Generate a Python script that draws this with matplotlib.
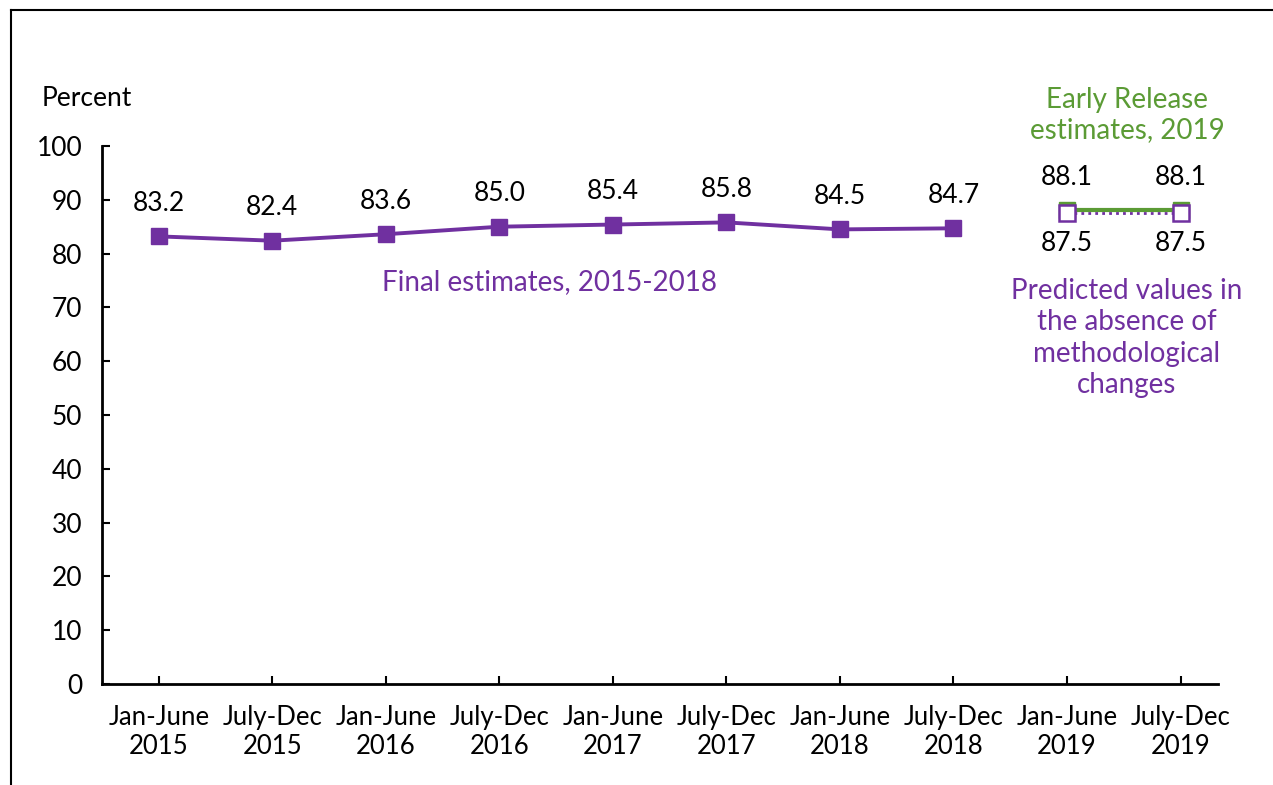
import matplotlib
matplotlib.use("Agg")
import matplotlib.pyplot as plt
from matplotlib.lines import Line2D

plt.rcParams['font.family'] = ['Lato', 'DejaVu Sans']

categories = ["Jan-June\n2015", "July-Dec\n2015", "Jan-June\n2016", "July-Dec\n2016",
              "Jan-June\n2017", "July-Dec\n2017", "Jan-June\n2018", "July-Dec\n2018",
              "Jan-June\n2019", "July-Dec\n2019"]
final_values = [83.2, 82.4, 83.6, 85.0, 85.4, 85.8, 84.5, 84.7]
early_release = [88.1, 88.1]
predicted = [87.5, 87.5]
yticks = [0, 10, 20, 30, 40, 50, 60, 70, 80, 90, 100]

purple = '#7030A0'
green = '#5B9B35'
FS = 19

fig = plt.figure(figsize=(12.73, 7.85), dpi=100)
ax = fig.add_axes([102/1273, 1-684/785, (1218-102)/1273, (684-146)/785])

# outer frame (partially visible)
fig.add_artist(Line2D([11/1273, 11/1273], [0, 1-10/785], transform=fig.transFigure, color='black', lw=1.5))
fig.add_artist(Line2D([11/1273, 1], [1-10/785, 1-10/785], transform=fig.transFigure, color='black', lw=1.5))

x_final = list(range(len(final_values)))
ax.plot(x_final, final_values, color=purple, lw=2.8, marker='s', markersize=11, zorder=3)
for x, v in zip(x_final, final_values):
    ax.annotate(f"{v:.1f}", (x, v), xytext=(0, 33), textcoords='offset pixels',
                ha='center', va='center', fontsize=FS, color='black')

x_2019 = [8, 9]
ax.plot(x_2019, early_release, color=green, lw=3, marker='s', markersize=11, zorder=3)
ax.plot(x_2019, predicted, color=purple, lw=2, ls=(0, (1, 1.5)), marker='s', markersize=11,
        markerfacecolor='white', markeredgecolor=purple, markeredgewidth=1.8, zorder=4)
for x, v in zip(x_2019, early_release):
    ax.annotate(f"{v:.1f}", (x, v), xytext=(0, 33), textcoords='offset pixels',
                ha='center', va='center', fontsize=FS, color='black')
for x, v in zip(x_2019, predicted):
    ax.annotate(f"{v:.1f}", (x, v), xytext=(0, -30), textcoords='offset pixels',
                ha='center', va='center', fontsize=FS, color='black')

ax.set_xlim(-0.5, 9.33)
ax.set_ylim(0, 100)
ax.set_yticks(yticks)
ax.set_xticks(range(len(categories)))
ax.set_xticklabels(categories, fontsize=18.5, linespacing=1.2)
ax.tick_params(axis='y', direction='in', length=6, width=1.5, labelsize=FS, pad=14)
ax.tick_params(axis='x', direction='in', length=6, width=1.5, pad=15)
for s in ['top', 'right']:
    ax.spines[s].set_visible(False)
for s in ['left', 'bottom']:
    ax.spines[s].set_linewidth(2)

fig.text(42/1273, 1-98/785, "Percent", fontsize=FS, ha='left', va='center')
fig.text(549/1273, 1-282/785, "Final estimates, 2015-2018", fontsize=FS + 1, color=purple,
         ha='center', va='center')
fig.text(1127/1273, 1-115/785, "Early Release\nestimates, 2019", fontsize=FS + 1, color=green,
         ha='center', va='center', linespacing=1.2)
fig.text(1127/1273, 1-338/785, "Predicted values in\nthe absence of\nmethodological\nchanges",
         fontsize=FS + 1, color=purple, ha='center', va='center', linespacing=1.25)

fig.savefig("out.png", dpi=100)
